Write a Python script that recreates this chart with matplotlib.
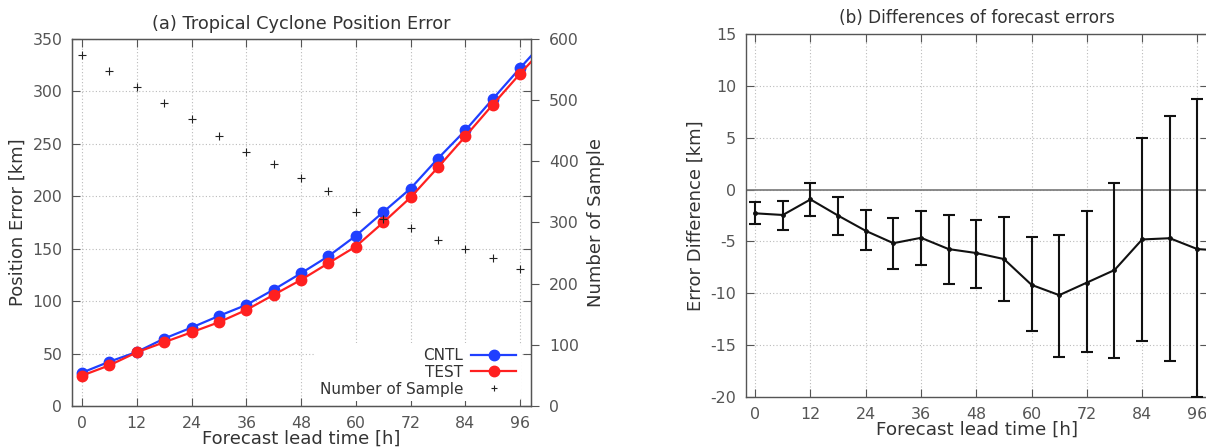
import numpy as np
import matplotlib
matplotlib.use('Agg')
import matplotlib.pyplot as plt
from matplotlib.lines import Line2D

plt.rcParams['font.family'] = ['DejaVu Sans']
plt.rcParams['axes.unicode_minus'] = False

# lead times [h]
lead = [0, 6, 12, 18, 24, 30, 36, 42, 48, 54, 60, 66, 72, 78, 84, 90, 96, 102]

# (a) position errors [km]
cntl = [31.8, 42.3, 51.5, 64.3, 74.8, 85.9, 96.4, 111.0, 126.6, 142.9,
        162.3, 184.9, 207.4, 236.0, 262.8, 292.7, 322.3, 351.0]
test = [29.0, 38.8, 51.2, 60.8, 70.3, 79.9, 91.6, 106.0, 120.3, 136.2,
        152.1, 175.0, 198.9, 227.5, 257.1, 287.3, 316.9, 345.0]
sample_lead = [0, 6, 12, 18, 24, 30, 36, 42, 48, 54, 60, 66, 72, 78, 84, 90, 96]
n_sample = [574, 548, 521, 495, 469, 442, 416, 395, 373, 352,
            317, 306, 291, 272, 257, 242, 224]

# (b) differences TEST - CNTL [km] with error bar limits
diff = [-2.29, -2.45, -0.95, -2.51, -3.98, -5.17, -4.65, -5.74, -6.12, -6.70,
        -9.19, -10.18, -8.97, -7.76, -4.81, -4.69, -5.74, -5.9]
diff_hi = [-1.24, -1.14, 0.62, -0.69, -2.00, -2.74, -2.03, -2.45, -2.90, -2.64,
           -4.62, -4.40, -2.10, 0.59, 4.93, 7.14, 8.74, 10.5]
diff_lo = [-3.34, -3.89, -2.58, -4.34, -5.87, -7.63, -7.31, -9.13, -9.45, -10.70,
           -13.67, -16.13, -15.68, -16.22, -14.56, -16.54, -20.0, -21.0]

xticks = [0, 12, 24, 36, 48, 60, 72, 84, 96]

fig = plt.figure(figsize=(12.06, 4.48), dpi=100)
spine_c = '#555555'
text_c = '#333333'
tick_c = '#555555'


def style_axes(ax):
    for s in ax.spines.values():
        s.set_color(spine_c)
        s.set_linewidth(1.0)
    ax.grid(True, color='#bbbbbb', linestyle=(0, (1, 2)), linewidth=0.8)
    ax.set_axisbelow(True)


# ---------- (a) ----------
ax = fig.add_axes([72 / 1206, 42 / 448, 459 / 1206, 367 / 448])
ax2 = ax.twinx()
style_axes(ax)

ax.plot(lead, cntl, color='#1f3fff', lw=1.6, marker='o', ms=7.5, label='CNTL', zorder=3)
ax.plot(lead, test, color='#ff2020', lw=1.6, marker='o', ms=7.5, label='TEST', zorder=4)
ax2.plot(sample_lead, n_sample, ls='none', marker='+', ms=6, mew=0.8,
         color='#222222', label='Number of Sample')

ax.set_xlim(-2.2, 98.4)
ax.set_ylim(0, 350)
ax2.set_ylim(0, 600)
ax.set_xticks(xticks)
ax.set_yticks(range(0, 351, 50))
ax2.set_yticks(range(0, 601, 100))
ax.tick_params(direction='in', length=6, top=True, right=True, labelsize=11.3,
               colors=tick_c, pad=7)
ax2.tick_params(direction='out', length=6, labelsize=11.3, colors=tick_c, pad=7)
for s in ax2.spines.values():
    s.set_color(spine_c)

ax.set_title('(a) Tropical Cyclone Position Error', fontsize=12.8, color=text_c, pad=7)
ax.set_xlabel('Forecast lead time [h]', fontsize=13, color=text_c, labelpad=-1)
ax.set_ylabel('Position Error [km]', fontsize=13, color=text_c, labelpad=4)
ax2.set_ylabel('Number of Sample', fontsize=13, color=text_c, labelpad=6)

handles = [Line2D([], [], color='#1f3fff', lw=1.6, marker='o', ms=7.5),
           Line2D([], [], color='#ff2020', lw=1.6, marker='o', ms=7.5),
           Line2D([], [], ls='none', marker='+', ms=5, mew=0.8, color='#222222')]
leg = ax2.legend(handles, ['CNTL', 'TEST', 'Number of Sample'], loc='lower right',
                 bbox_to_anchor=(0.985, 0.005), markerfirst=False, frameon=True,
                 facecolor='white', edgecolor='none', framealpha=1, fontsize=11,
                 handlelength=3.0, handletextpad=0.5, labelspacing=0.12,
                 borderpad=0.3, borderaxespad=0.2)
for t in leg.get_texts():
    t.set_color(text_c)
    t.set_ha('right')

# ---------- (b) ----------
bx = fig.add_axes([746 / 1206, 51 / 448, 462 / 1206, 363 / 448])
style_axes(bx)
d = np.array(diff)
yerr = [d - np.array(diff_lo), np.array(diff_hi) - d]
bx.axhline(0, color='#777777', lw=1.2, zorder=2)
bx.errorbar(lead, diff, yerr=yerr, color='#111111', lw=1.5, elinewidth=1.5,
            capsize=4, capthick=1.5, marker='o', ms=2.5, zorder=3)
bx.set_xlim(-2.0, 98.3)
bx.set_ylim(-20, 15)
bx.set_xticks(xticks)
bx.set_yticks(range(-20, 16, 5))
bx.tick_params(direction='in', length=6, top=True, right=True, labelsize=11.4,
               colors=tick_c, pad=7)
bx.set_title('(b) Differences of forecast errors', fontsize=12.2, color=text_c, pad=8)
bx.set_xlabel('Forecast lead time [h]', fontsize=13.2, color=text_c, labelpad=-1)
bx.set_ylabel('Error Difference [km]', fontsize=13, color=text_c, labelpad=4)

fig.savefig('out.png', dpi=100)
